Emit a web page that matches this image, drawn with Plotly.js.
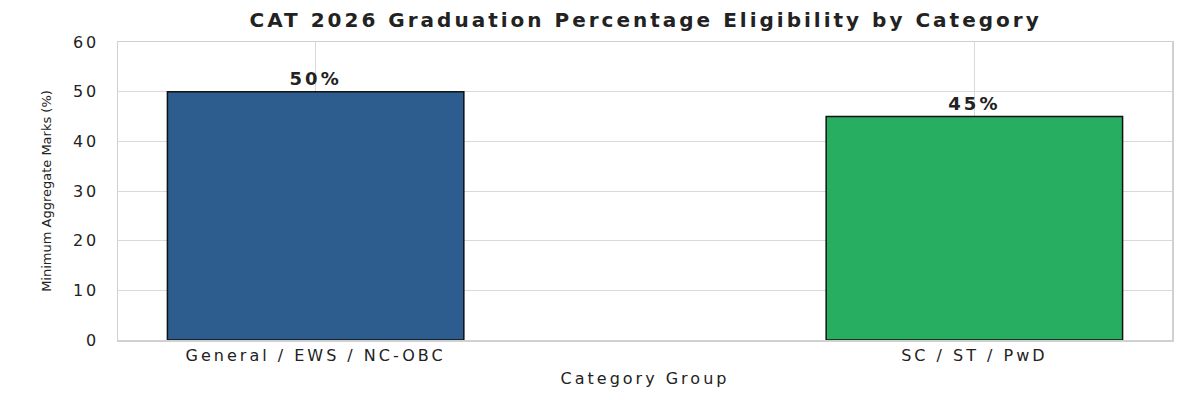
<!DOCTYPE html>
<html>
<head>
<meta charset="utf-8">
<script src="https://cdn.plot.ly/plotly-3.0.1.min.js"></script>
<style>
  html, body { margin: 0; padding: 0; background: #fff; }
  #chart { width: 1200px; height: 400px; }
  /* source picture is stretched sideways, widen the horizontal text a bit */
  .gtitle { letter-spacing: 3px; }
  .xtick text, .ytick text { letter-spacing: 3px; }
  .xtitle { letter-spacing: 3px; }
  .bartext { letter-spacing: 3px; }
</style>
</head>
<body>
<div id="chart"></div>
<script>
const categories = ["General / EWS / NC-OBC", "SC / ST / PwD"];
const minMarks = [50, 45];
const barLabels = ["50%", "45%"];
const barColors = ["#2c5d8e", "#27ae60"];
const yTicks = [0, 10, 20, 30, 40, 50, 60];

const FONT = "DejaVu Sans, Verdana, sans-serif";

let data = [{
	x: categories,
	y: minMarks,
	type: "bar",
	width: 0.45,
	marker: {
		color: barColors,
		line: { color: "#111", width: 1.5 }
	},
	text: barLabels,
	textposition: "outside",
	cliponaxis: false,
	textfont: { family: FONT, size: 18, color: "#222", weight: "bold" },
	hoverinfo: "x+y"
}];

let layout = {
	width: 1200,
	height: 400,
	margin: { l: 118, r: 28, t: 42, b: 60 },
	paper_bgcolor: "#fff",
	plot_bgcolor: "#fff",
	font: { family: FONT, color: "#222" },
	title: {
		text: "<b>CAT 2026 Graduation Percentage Eligibility by Category</b>",
		font: { family: FONT, size: 20, color: "#222" },
		x: 0.538,
		xanchor: "center",
		y: 0.95,
		yanchor: "middle"
	},
	xaxis: {
		range: [-0.3, 1.3],
		showgrid: true,
		gridcolor: "#d9d9d9",
		gridwidth: 1,
		showline: true,
		linecolor: "#d0d0d0",
		linewidth: 1.5,
		mirror: true,
		ticks: "",
		tickfont: { family: FONT, size: 16, color: "#222" },
		title: { text: "Category Group", font: { family: FONT, size: 16, color: "#222" }, standoff: 9 },
		zeroline: false
	},
	yaxis: {
		range: [0, 60],
		tickvals: yTicks,
		showgrid: true,
		gridcolor: "#d9d9d9",
		gridwidth: 1,
		showline: true,
		linecolor: "#d0d0d0",
		linewidth: 1.5,
		mirror: true,
		ticks: "",
		ticklabelstandoff: 14,
		tickfont: { family: FONT, size: 16, color: "#222" },
		title: { text: "Minimum Aggregate Marks (%)", font: { family: FONT, size: 13, color: "#222" }, standoff: 18 },
		zeroline: false
	},
	bargap: 0.55,
	showlegend: false
};

Plotly.newPlot("chart", data, layout, { displayModeBar: false, staticPlot: true });
</script>
</body>
</html>
